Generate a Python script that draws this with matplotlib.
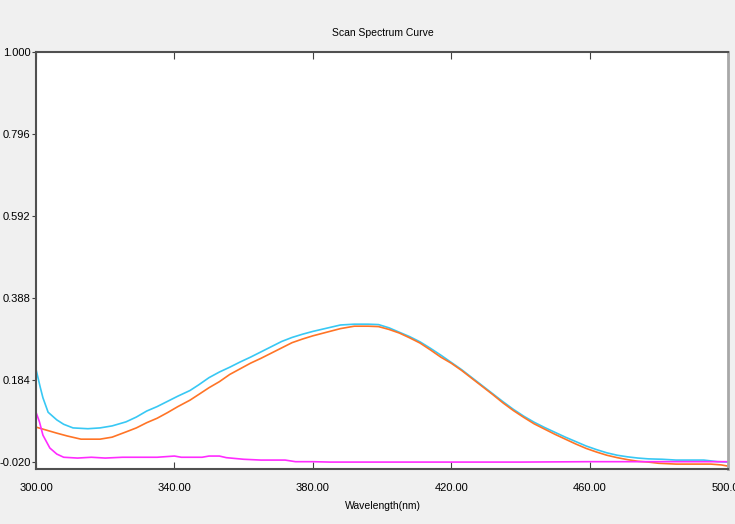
import matplotlib
matplotlib.use("Agg")
import matplotlib.pyplot as plt
from matplotlib import font_manager

# ---- data ----
cyan_wl = [300, 301.2, 302, 303.5, 306, 308, 310.7, 315, 318.5, 322, 326, 329, 332, 335, 338, 341,
           344.5, 347, 350, 353, 356, 359, 362, 365, 368, 371, 374, 377, 380, 384, 388, 392, 396,
           399, 402, 405, 408, 411, 414, 417, 420, 423, 426, 429, 432, 435, 438, 441, 444, 447,
           450, 453, 456, 459, 462, 465, 468, 471, 474, 477, 481, 485, 490, 493, 497, 500]
cyan_val = [0.211, 0.167, 0.140, 0.104, 0.085, 0.074, 0.065, 0.063, 0.065, 0.070, 0.080, 0.092,
            0.107, 0.118, 0.131, 0.144, 0.158, 0.172, 0.190, 0.204, 0.216, 0.229, 0.241, 0.254,
            0.267, 0.280, 0.290, 0.298, 0.305, 0.313, 0.321, 0.323, 0.323, 0.322, 0.314, 0.303,
            0.292, 0.279, 0.263, 0.246, 0.228, 0.210, 0.190, 0.170, 0.150, 0.130, 0.111, 0.094,
            0.079, 0.066, 0.054, 0.042, 0.031, 0.020, 0.011, 0.003, -0.003, -0.007, -0.010,
            -0.012, -0.013, -0.015, -0.015, -0.015, -0.019, -0.020]

orange_wl = [300, 302, 304, 306, 309, 313, 318.5, 322, 326, 329, 332, 335, 338, 341, 344.5, 347,
             350, 353, 356, 359, 362, 365, 368, 371, 374, 377, 380, 384, 388, 392, 396, 399, 402,
             405, 408, 411, 414, 417, 420, 423, 426, 429, 432, 435, 438, 441, 444, 447, 450, 453,
             456, 459, 462, 465, 468, 471, 474, 477, 480, 485, 490, 495, 498, 500]
orange_val = [0.067, 0.062, 0.057, 0.052, 0.045, 0.037, 0.037, 0.042, 0.055, 0.065, 0.078, 0.089,
              0.103, 0.118, 0.134, 0.148, 0.165, 0.180, 0.198, 0.212, 0.226, 0.238, 0.251, 0.264,
              0.277, 0.286, 0.294, 0.303, 0.312, 0.318, 0.318, 0.317, 0.310, 0.301, 0.289, 0.276,
              0.259, 0.241, 0.226, 0.208, 0.188, 0.168, 0.148, 0.127, 0.108, 0.091, 0.075, 0.062,
              0.049, 0.037, 0.025, 0.014, 0.005, -0.003, -0.009, -0.014, -0.018, -0.020, -0.023,
              -0.025, -0.025, -0.025, -0.027, -0.030]

magenta_wl = [300, 301, 302, 304, 306, 308, 312, 316, 320, 325, 330, 335, 340, 342, 348, 350, 353,
              355, 360, 365, 372, 375, 380, 385, 400, 420, 440, 460, 480, 500]
magenta_val = [0.104, 0.080, 0.047, 0.015, 0.000, -0.008, -0.010, -0.008, -0.010, -0.008, -0.008,
               -0.008, -0.005, -0.008, -0.008, -0.005, -0.005, -0.009, -0.013, -0.015, -0.015,
               -0.019, -0.019, -0.020, -0.020, -0.020, -0.020, -0.019, -0.019, -0.019]

x_ticks = [300, 340, 380, 420, 460, 500]
y_ticks = [-0.020, 0.184, 0.388, 0.592, 0.796, 1.000]

# ---- font ----
names = {f.name for f in font_manager.fontManager.ttflist}
fam = ["Liberation Sans Narrow", "DejaVu Sans"] if "Liberation Sans Narrow" in names else ["Liberation Sans", "DejaVu Sans"]
plt.rcParams["font.family"] = fam

fig = plt.figure(figsize=(7.35, 5.24), dpi=100, facecolor="#f0f0f0")
ax = fig.add_axes([36 / 735, 1 - 469 / 524, 692 / 735, (469 - 52) / 524])
ax.set_facecolor("white")

ax.plot(cyan_wl, cyan_val, color="#38c8f4", lw=1.2)
ax.plot(orange_wl, orange_val, color="#ff7426", lw=1.2)
ax.plot(magenta_wl, magenta_val, color="#ff2cff", lw=1.2)

ax.set_xlim(300, 500)
ax.set_ylim(-0.0372, 1.0)
ax.set_xticks(x_ticks)
ax.set_xticklabels([f"{v:.2f}" for v in x_ticks], fontsize=8)
ax.set_yticks(y_ticks)
ax.set_yticklabels([f"{v:.3f}" for v in y_ticks], fontsize=8)
ax.tick_params(axis="x", direction="in", length=5, width=0.8, color="#404040", top=True, pad=10)
ax.tick_params(axis="y", direction="out", length=3, width=0.8, color="#404040", pad=1)

for side in ["top", "left", "bottom"]:
    ax.spines[side].set_color("#505050")
    ax.spines[side].set_linewidth(1.5)
ax.spines["right"].set_color("#a8a8a8")
ax.spines["right"].set_linewidth(2)

fig.text(383 / 735, 1 - 33 / 524, "Scan Spectrum Curve", ha="center", va="center", fontsize=7.5)
fig.text(383 / 735, 1 - 506 / 524, "Wavelength(nm)", ha="center", va="center", fontsize=7.5)

fig.savefig("out.png", dpi=100, facecolor=fig.get_facecolor())
